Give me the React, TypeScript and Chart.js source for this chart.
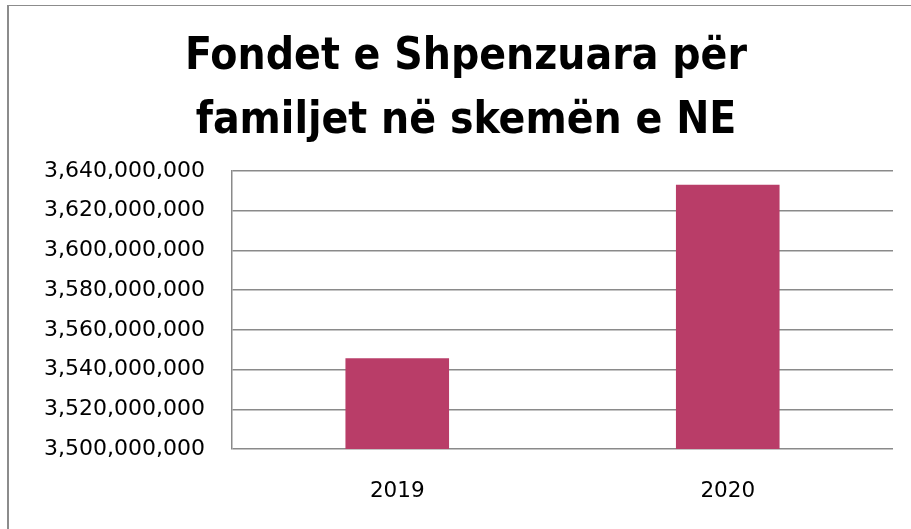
import React, { useEffect, useRef } from "react";
import { Chart, registerables } from "chart.js";

Chart.register(...registerables);

const titleLines = ["Fondet e Shpenzuara për", "familjet në skemën e NE"];
const categories = ["2019", "2020"];
const fundValues = [3545700000, 3633100000];
const yMin = 3500000000;
const yMax = 3640000000;
const yStep = 20000000;

export default function App() {
  const ref = useRef<HTMLCanvasElement | null>(null);

  useEffect(() => {
    if (!ref.current) return;
    const grid = "#8a8a8a";
    const cond = "'DejaVu Sans Condensed', 'DejaVu Sans', sans-serif";
    const norm = "'DejaVu Sans', sans-serif";
    const chart = new Chart(ref.current, {
      type: "bar",
      data: {
        labels: categories,
        datasets: [
          {
            data: fundValues,
            backgroundColor: "#B93D68",
            borderWidth: 0,
            categoryPercentage: 1,
            barPercentage: 0.3135,
          },
        ],
      },
      options: {
        responsive: false,
        animation: false,
        layout: { padding: { left: 39, right: 18, top: 0, bottom: 0 } },
        plugins: {
          legend: { display: false },
          tooltip: { enabled: false },
          title: {
            display: true,
            text: titleLines,
            color: "#000000",
            font: { family: cond, size: 44, weight: "bold", lineHeight: 1.4545 },
            padding: { top: 26, bottom: 17 },
          },
        },
        scales: {
          x: {
            grid: { display: false, drawTicks: false },
            border: { display: false },
            ticks: {
              color: "#000000",
              padding: 30,
              font: { family: norm, size: 21.5 },
            },
            afterFit: (s: any) => {
              s.height = 80;
            },
          },
          y: {
            min: yMin,
            max: yMax,
            grid: { color: grid, lineWidth: 1.5, drawTicks: false },
            border: { display: true, color: grid, width: 1.5 },
            ticks: {
              stepSize: yStep,
              color: "#000000",
              padding: 27,
              font: { family: norm, size: 22 },
              callback: (v: any) => Number(v).toLocaleString("en-US"),
            },
            afterFit: (s: any) => {
              s.width = 193;
            },
          },
        },
      },
    });
    return () => chart.destroy();
  }, []);

  return (
    <div style={{ position: "fixed", left: 0, top: 0, width: 911, height: 529, background: "#fff" }}>
      <div
        style={{
          position: "absolute",
          left: 7,
          top: 5,
          width: 1000,
          height: 1000,
          borderLeft: "2px solid #8c8c8c",
          borderTop: "1px solid #8c8c8c",
        }}
      />
      <canvas ref={ref} width={911} height={529} style={{ position: "absolute", left: 0, top: 0 }} />
    </div>
  );
}
